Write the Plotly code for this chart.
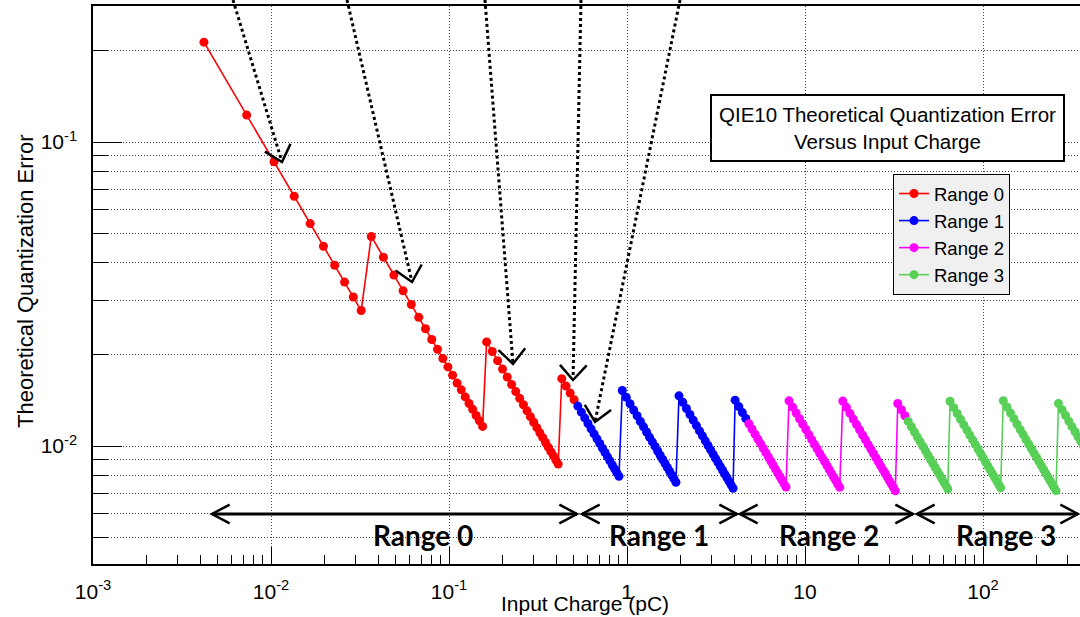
import plotly.graph_objects as go
import math

# ---------------- data ----------------
r0_x = [0.0042, 0.0073, 0.0104, 0.0135, 0.0166, 0.0197, 0.0228, 0.0259, 0.0290, 0.0321,
        0.0366, 0.0428, 0.0490, 0.0552, 0.0614, 0.0676, 0.0738, 0.0800, 0.0862, 0.0924,
        0.0986, 0.1048, 0.1110, 0.1172, 0.1234, 0.1296, 0.1358, 0.1420, 0.1482, 0.1544,
        0.1627, 0.1751, 0.1875, 0.1999, 0.2123, 0.2247, 0.2371, 0.2495, 0.2619, 0.2743,
        0.2867, 0.2991, 0.3115, 0.3239, 0.3363, 0.3487, 0.3611, 0.3735, 0.3859, 0.3983,
        0.4107, 0.430, 0.4548, 0.4796, 0.5044]
r0_y = [0.213, 0.1226, 0.0861, 0.0663, 0.0539, 0.0454, 0.0393, 0.0346, 0.0309, 0.0279,
        0.0489, 0.0418, 0.0365, 0.0324, 0.0292, 0.0265, 0.0243, 0.0224, 0.0208, 0.0194,
        0.0182, 0.0171, 0.0161, 0.0153, 0.0145, 0.0138, 0.0132, 0.0126, 0.0121, 0.0116,
        0.0220, 0.02045, 0.01909, 0.01791, 0.01686, 0.01593, 0.01510, 0.01435, 0.01367, 0.01305,
        0.01249, 0.01197, 0.01149, 0.01105, 0.01065, 0.01027, 0.00991, 0.00958, 0.00928, 0.00899,
        0.00872, 0.01665, 0.01574, 0.01493, 0.01420]

r1_x = [0.5292, 0.554, 0.5788, 0.6036, 0.6284, 0.6532, 0.678, 0.7028, 0.7276, 0.7524,
        0.7772, 0.802, 0.8268, 0.8516, 0.8764, 0.9012,
        0.941, 0.9906, 1.0402, 1.0898, 1.1394, 1.189, 1.2386, 1.2882, 1.3378, 1.3874,
        1.437, 1.4866, 1.5362, 1.5858, 1.6354, 1.685, 1.7346, 1.7842, 1.8338, 1.8834,
        1.959, 2.058, 2.157, 2.257, 2.356, 2.455, 2.554, 2.653, 2.753, 2.852,
        2.951, 3.050, 3.149, 3.249, 3.348, 3.447, 3.546, 3.645, 3.745, 3.844, 3.943,
        4.05, 4.25, 4.45, 4.65]
r1_y = [0.01353, 0.01292, 0.01237, 0.01186, 0.01139, 0.01096, 0.01056, 0.01019, 0.00984, 0.00952,
        0.00921, 0.00893, 0.00866, 0.00841, 0.00817, 0.00795,
        0.01522, 0.01446, 0.01377, 0.01314, 0.01257, 0.01204, 0.01156, 0.01112, 0.01070, 0.01032,
        0.00997, 0.00963, 0.00932, 0.00903, 0.00876, 0.00850, 0.00826, 0.00803, 0.00781, 0.00760,
        0.01462, 0.01392, 0.01328, 0.01269, 0.01216, 0.01167, 0.01121, 0.01080, 0.01040, 0.01004,
        0.00971, 0.00939, 0.00909, 0.00882, 0.00855, 0.00831, 0.00808, 0.00786, 0.00765, 0.00745, 0.00726,
        0.01415, 0.01348, 0.01288, 0.01232]

r2_x = [4.84, 5.04, 5.24, 5.44, 5.63, 5.83, 6.03, 6.23, 6.43, 6.63, 6.83, 7.02, 7.22, 7.42, 7.62, 7.82,
        8.13, 8.53, 8.92, 9.32, 9.72, 10.11, 10.51, 10.91, 11.31, 11.70,
        12.10, 12.50, 12.89, 13.29, 13.69, 14.08, 14.48, 14.88, 15.27, 15.67,
        16.3, 17.09, 17.89, 18.68, 19.48, 20.27, 21.06, 21.86, 22.65, 23.45,
        24.24, 25.03, 25.83, 26.62, 27.42, 28.21, 29.00, 29.80, 30.59, 31.39, 32.18,
        33.2, 34.8, 36.4]
r2_y = [0.01184, 0.01137, 0.01094, 0.01053, 0.01018, 0.00983, 0.00950, 0.00920, 0.00891, 0.00864,
        0.00839, 0.00816, 0.00794, 0.00772, 0.00752, 0.00733,
        0.01408, 0.01342, 0.01284, 0.01229, 0.01178, 0.01133, 0.01089, 0.01049, 0.01012, 0.00979,
        0.00946, 0.00916, 0.00888, 0.00862, 0.00836, 0.00813, 0.00791, 0.00770, 0.00750, 0.00731,
        0.01405, 0.01340, 0.01280, 0.01226, 0.01176, 0.01130, 0.01087, 0.01048, 0.01011, 0.00977,
        0.00945, 0.00915, 0.00887, 0.00860, 0.00835, 0.00812, 0.00790, 0.00768, 0.00749, 0.00730, 0.00712,
        0.01380, 0.01316, 0.01258]

r3_x = [38.0, 39.6, 41.2, 42.8, 44.3, 45.9, 47.5, 49.1, 50.7, 52.3, 53.9, 55.5, 57.0, 58.6, 60.2, 61.8, 63.4,
        65.3, 68.5, 71.6, 74.8, 78.0, 81.2, 84.3, 87.5, 90.7, 93.9,
        97.0, 100.2, 103.4, 106.6, 109.7, 112.9, 116.1, 119.3, 122.4, 125.6,
        130.0, 136.3, 142.7, 149.0, 155.4, 161.7, 168.1, 174.4, 180.8, 187.1,
        193.5, 199.8, 206.2, 212.5, 218.9, 225.2, 231.6, 237.9, 244.3, 250.6, 257.0,
        265.5, 278.2, 290.9, 303.6, 316.3, 329.0, 341.7, 354.4, 367.1]
r3_y = [0.01205, 0.01157, 0.01112, 0.01070, 0.01034, 0.00998, 0.00964, 0.00933, 0.00903, 0.00876,
        0.00850, 0.00825, 0.00804, 0.00782, 0.00761, 0.00741, 0.00722,
        0.01403, 0.01337, 0.01279, 0.01225, 0.01174, 0.01128, 0.01087, 0.01047, 0.01010, 0.00976,
        0.00944, 0.00914, 0.00886, 0.00859, 0.00835, 0.00811, 0.00789, 0.00768, 0.00748, 0.00729,
        0.01409, 0.01344, 0.01284, 0.01230, 0.01179, 0.01133, 0.01090, 0.01050, 0.01013, 0.00979,
        0.00947, 0.00917, 0.00888, 0.00862, 0.00837, 0.00813, 0.00791, 0.00770, 0.00750, 0.00731, 0.00713,
        0.01380, 0.01317, 0.01260, 0.01207, 0.01158, 0.01114, 0.01072, 0.01034, 0.00998]

series_names = ["Range 0", "Range 1", "Range 2", "Range 3"]
series_colors = ["#ff0000", "#0000ff", "#ff00ff", "#58d058"]

x_tickvals = [0.001, 0.01, 0.1, 1, 10, 100]
x_ticktext = ["10<sup>-3</sup>", "10<sup>-2</sup>", "10<sup>-1</sup>", "1", "10", "10<sup>2</sup>"]
y_tickvals = [0.01, 0.1]
y_ticktext = ["10<sup>-2</sup>", "10<sup>-1</sup>"]
x_minor_vals = [k * 10.0 ** e for e in range(-3, 3) for k in range(2, 10)]
y_minor_vals = [k * 10.0 ** e for e in range(-3, 0) for k in range(2, 10)]

range_labels = ["Range 0", "Range 1", "Range 2", "Range 3"]

# ---------------- layout geometry ----------------
W, H = 1080, 617
L, R, T, B = 93, 0, 6, 53
PW, PH = W - L - R, H - T - B
FONT = "Liberation Sans, Arial, Helvetica, sans-serif"


def pp(px, py):
    return ((px - L) / PW, (H - B - py) / PH)


fig = go.Figure()
for xs, ys, nm, col in zip([r0_x, r1_x, r2_x, r3_x], [r0_y, r1_y, r2_y, r3_y],
                           series_names, series_colors):
    fig.add_trace(go.Scatter(
        x=xs, y=ys, name=nm, mode="lines+markers",
        line=dict(color=col, width=1.6),
        marker=dict(color=col, size=9, line=dict(width=0)),
    ))

shapes = []
# dotted arrows from top with open V heads
top_arrows = [((233, 0), (282, 162)), ((347, 0), (412, 282)), ((485, 0), (513, 364)),
              ((581, 0), (573, 380)), ((680, 0), (595, 422))]


def vhead(tip, frm, length, ang_deg):
    dx, dy = frm[0] - tip[0], frm[1] - tip[1]
    n = math.hypot(dx, dy)
    ux, uy = dx / n, dy / n
    pts = []
    for s in (1, -1):
        a = math.radians(ang_deg) * s
        rx = ux * math.cos(a) - uy * math.sin(a)
        ry = ux * math.sin(a) + uy * math.cos(a)
        pts.append((tip[0] + rx * length, tip[1] + ry * length))
    a1 = pp(*pts[0]); t = pp(*tip); a2 = pp(*pts[1])
    return "M %f,%f L %f,%f L %f,%f" % (a1[0], a1[1], t[0], t[1], a2[0], a2[1])


for (s, e) in top_arrows:
    p0 = pp(*s); p1 = pp(*e)
    shapes.append(dict(type="line", xref="paper", yref="paper", x0=p0[0], y0=p0[1], x1=p1[0], y1=p1[1],
                       line=dict(color="black", width=3, dash="dot")))
    shapes.append(dict(type="path", xref="paper", yref="paper", path=vhead(e, s, 20, 42),
                       line=dict(color="black", width=2.5)))

# bottom double arrows
AY = 514
bottom_segs = [(212, 577), (582, 737), (740, 913), (917, 1078)]
for (a, b) in bottom_segs:
    p0 = pp(a, AY); p1 = pp(b, AY)
    shapes.append(dict(type="line", xref="paper", yref="paper", x0=p0[0], y0=p0[1], x1=p1[0], y1=p1[1],
                       line=dict(color="black", width=3)))
    shapes.append(dict(type="path", xref="paper", yref="paper", path=vhead((a, AY), (b, AY), 20, 28),
                       line=dict(color="black", width=2.5)))
    shapes.append(dict(type="path", xref="paper", yref="paper", path=vhead((b, AY), (a, AY), 20, 28),
                       line=dict(color="black", width=2.5)))

annotations = []
label_cx = [423, 659, 829, 1006]
for lab, cx in zip(range_labels, label_cx):
    p = pp(cx, 535)
    annotations.append(dict(x=p[0], y=p[1], xref="paper", yref="paper", text="<b>%s</b>" % lab,
                            showarrow=False, xanchor="center", yanchor="middle",
                            font=dict(family="Lato, Open Sans, sans-serif", size=28, color="black")))

# title box
p = pp(887, 127.5)
annotations.append(dict(x=p[0], y=p[1], xref="paper", yref="paper",
                        text="QIE10 Theoretical Quantization Error<br>Versus Input Charge",
                        showarrow=False, xanchor="center", yanchor="middle", align="center",
                        bgcolor="white", bordercolor="black", borderwidth=2, borderpad=7,
                        font=dict(family=FONT, size=20.5, color="black")))

# axis titles
p = pp(585, 603)
annotations.append(dict(x=p[0], y=p[1], xref="paper", yref="paper", text="Input Charge (pC)",
                        showarrow=False, xanchor="center", yanchor="middle",
                        font=dict(family=FONT, size=21, color="black")))
p = pp(25, 282)
annotations.append(dict(x=p[0], y=p[1], xref="paper", yref="paper", text="Theoretical Quantization Error",
                        showarrow=False, xanchor="center", yanchor="middle", textangle=-90,
                        font=dict(family=FONT, size=22, color="black")))

lg = pp(893, 174)
fig.update_layout(
    width=W, height=H,
    margin=dict(l=L, r=R, t=T, b=B, pad=0),
    paper_bgcolor="white", plot_bgcolor="white",
    font=dict(family=FONT, size=20, color="black"),
    showlegend=True,
    legend=dict(x=lg[0], y=lg[1], xanchor="left", yanchor="top",
                bgcolor="#f0f0f0", bordercolor="black", borderwidth=1,
                font=dict(family=FONT, size=18.5, color="black"), tracegroupgap=0),
    shapes=shapes, annotations=annotations,
)
fig.update_xaxes(
    type="log", range=[-3, -3 + PW / 178.0],
    tickmode="array", tickvals=x_tickvals, ticktext=x_ticktext,
    ticks="inside", ticklen=17, tickwidth=1, tickcolor="black",
    showline=True, linecolor="black", linewidth=1.5, mirror=True,
    showgrid=True, gridcolor="#444", griddash="1px,2px", gridwidth=1,
    zeroline=False, ticklabelstandoff=8,
    tickfont=dict(family=FONT, size=21, color="black"),
    minor=dict(tickmode="array", tickvals=x_minor_vals, ticks="inside", ticklen=9,
               tickcolor="black", tickwidth=1, showgrid=False),
)
ytop = -1 + (142 - T) / 304.0
fig.update_yaxes(
    type="log", range=[ytop - PH / 304.0, ytop],
    tickmode="array", tickvals=y_tickvals, ticktext=y_ticktext,
    ticks="inside", ticklen=29, tickwidth=1, tickcolor="black",
    showline=True, linecolor="black", linewidth=1.5, mirror=False,
    showgrid=True, gridcolor="#444", griddash="1px,2px", gridwidth=1,
    zeroline=False, ticklabelstandoff=10,
    tickfont=dict(family=FONT, size=21, color="black"),
    minor=dict(tickmode="array", tickvals=y_minor_vals, ticks="inside", ticklen=15,
               tickcolor="black", tickwidth=1, showgrid=True, gridcolor="#444",
               griddash="1px,2px", gridwidth=1),
)

fig.write_html("out.html")
